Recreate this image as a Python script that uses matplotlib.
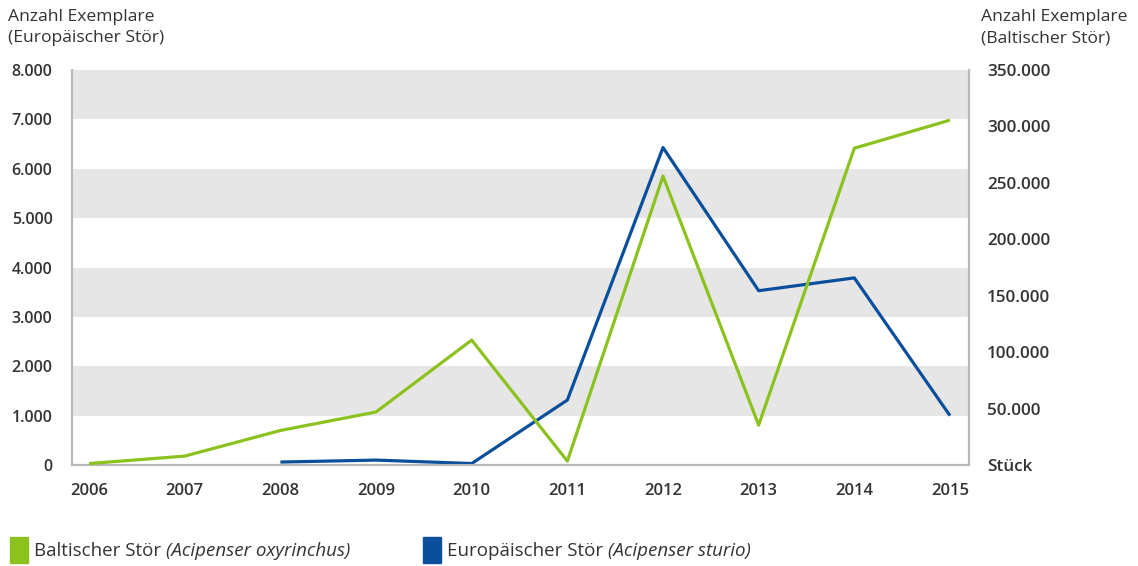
import matplotlib.pyplot as plt
from matplotlib.patches import Rectangle

years = [2006, 2007, 2008, 2009, 2010, 2011, 2012, 2013, 2014, 2015]
baltic = [1300, 7900, 30600, 47000, 110700, 3500, 256000, 35400, 280700, 305600]
euro_years = [2008, 2009, 2010, 2011, 2012, 2013, 2014, 2015]
euro = [60, 100, 30, 1316, 6430, 3530, 3790, 1000]

left_ticks = [0, 1000, 2000, 3000, 4000, 5000, 6000, 7000, 8000]
right_ticks = [0, 50000, 100000, 150000, 200000, 250000, 300000, 350000]

GREEN = '#8cc21e'
BLUE = '#0b4f9c'
GREY = '#b9b9b9'
TEXT = '#333333'
FONT = 'Open Sans'


def fmt(v):
    return f'{v:,}'.replace(',', '.')


plt.rcParams['font.family'] = [FONT, 'DejaVu Sans']

fig = plt.figure(figsize=(11.38, 5.66), dpi=100)
ax = fig.add_axes([0.0633, 0.1784, 0.7882, 0.6979])
ax2 = ax.twinx()

for lo in range(1000, 8000, 2000):
    ax.axhspan(lo, lo + 1000, color='#e6e6e6', lw=0, zorder=0)

ax.set_xlim(2005.822, 2015.199)
ax.set_ylim(0, 8000)
ax2.set_ylim(0, 350000)

ax.plot(euro_years, euro, color=BLUE, lw=2.3, zorder=3, solid_capstyle='butt')
ax2.plot(years, baltic, color=GREEN, lw=2.3, zorder=3, solid_capstyle='butt')

ax.set_xticks(years)
ax.set_xticklabels([str(y) for y in years], fontsize=12, fontweight='semibold', color=TEXT)
ax.set_yticks(left_ticks)
ax.set_yticklabels([fmt(v) for v in left_ticks], fontsize=11.5, fontweight='semibold', color=TEXT)
ax2.set_yticks(right_ticks)
ax2.set_yticklabels(['Stück'] + [fmt(v) for v in right_ticks[1:]], fontsize=12.3,
                    fontweight='semibold', color=TEXT)

ax.tick_params(axis='both', length=0)
ax.tick_params(axis='y', pad=14)
ax.tick_params(axis='x', pad=13)
ax2.tick_params(axis='y', length=0, pad=13)

for a in (ax, ax2):
    a.spines['top'].set_visible(False)
    for s in ('left', 'right', 'bottom'):
        a.spines[s].set_color(GREY)
        a.spines[s].set_linewidth(1.5)

fig.text(0.007, 0.984, 'Anzahl Exemplare\n(Europäischer Stör)', fontsize=12.6,
         va='top', ha='left', color=TEXT, linespacing=1.45)
fig.text(0.862, 0.984, 'Anzahl Exemplare\n(Baltischer Stör)', fontsize=12.6,
         va='top', ha='left', color=TEXT, linespacing=1.45)

# legend drawn by hand
legend_items = [
    (GREEN, 'Baltischer Stör ', '(Acipenser oxyrinchus)', 0.009),
    (BLUE, 'Europäischer Stör ', '(Acipenser sturio)', 0.372),
]
fig.canvas.draw()
renderer = fig.canvas.get_renderer()
for color, plain, italic, x0 in legend_items:
    fig.patches.append(Rectangle((x0, 0.005), 0.0155, 0.046, transform=fig.transFigure,
                                 color=color, figure=fig))
    t = fig.text(x0 + 0.021, 0.026, plain, fontsize=13.5, va='center', ha='left', color=TEXT)
    bb = t.get_window_extent(renderer).transformed(fig.transFigure.inverted())
    fig.text(bb.x1, 0.026, italic, fontsize=13.5, va='center', ha='left',
             style='italic', color=TEXT)

fig.savefig('out.png', dpi=100)
